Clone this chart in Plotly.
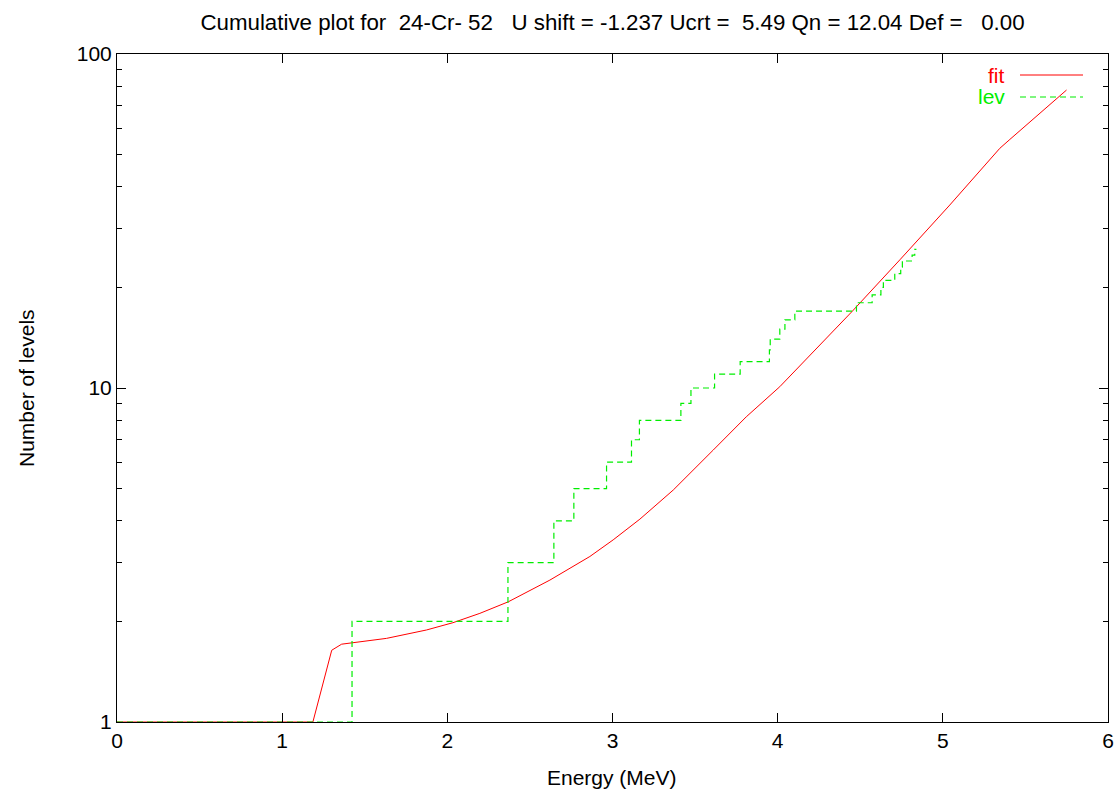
import plotly.graph_objects as go

# Fit curve (cumulative number of levels, model)
fit_energy = [0.0, 1.186, 1.30, 1.36, 1.632, 1.874, 2.034, 2.197, 2.369, 2.621, 2.863, 3.004,
              3.166, 3.368, 3.61, 3.81, 4.013, 4.256, 4.453, 4.74, 5.042, 5.345, 5.375,
              5.406, 5.749]
fit_levels = [1.0, 1.0, 1.64, 1.71, 1.78, 1.886, 1.983, 2.115, 2.29, 2.66, 3.13, 3.51,
              4.05, 4.95, 6.52, 8.2, 10.09, 13.45, 17.0, 24.2, 35.3, 52.2, 53.9,
              55.5, 78.0]

# Experimental level scheme (step function)
lev_energy = [0.0, 1.423, 2.367, 2.645, 2.766, 2.964, 3.115, 3.163, 3.414, 3.475, 3.618,
              3.773, 3.950, 3.955, 4.013, 4.044, 4.104, 4.477, 4.572, 4.625, 4.640, 4.709,
              4.745, 4.755, 4.814, 4.830, 4.840]
lev_count = [1, 2, 3, 4, 5, 6, 7, 8, 9, 10, 11, 12, 13, 14, 15, 16, 17, 18, 19, 20, 21,
             22, 23, 24, 25, 26, 26]

x_ticks = [0, 1, 2, 3, 4, 5, 6]
y_ticks = [1, 10, 100]
y_minor = [2, 3, 4, 5, 6, 7, 8, 9, 20, 30, 40, 50, 60, 70, 80, 90]

title_text = ("Cumulative plot for  24-Cr- 52   U shift = -1.237 Ucrt =  5.49 "
              "Qn = 12.04 Def =   0.00").replace(" ", "\u00a0")

FONT = "Liberation Sans, Arial, Helvetica, sans-serif"
FS = 21

W, H = 1120, 793
L, R, T, B = 117, W - 1108, 54, H - 722
pw, ph = W - L - R, H - T - B
def px(xp):
    return (xp - L) / pw
def py(yp):
    return (H - B - yp) / ph

fig = go.Figure()
fig.add_trace(go.Scatter(x=fit_energy, y=fit_levels, mode="lines",
                         line=dict(color="#ff0000", width=1),
                         name="fit", showlegend=False))
fig.add_trace(go.Scatter(x=lev_energy, y=lev_count, mode="lines", line_shape="hv",
                         line=dict(color="#00ee00", width=1.2, dash="6px,4px"), name="lev",
                         showlegend=False))

# gnuplot-style key (text left, sample right)
fig.add_annotation(x=px(1007), y=py(75), xref="paper", yref="paper",
                   text="fit", showarrow=False, xanchor="right", yanchor="middle",
                   font=dict(family=FONT, size=FS, color="#ff0000"))
fig.add_annotation(x=px(1007), y=py(97), xref="paper", yref="paper",
                   text="lev", showarrow=False, xanchor="right", yanchor="middle",
                   font=dict(family=FONT, size=FS, color="#00ee00"))
fig.add_shape(type="line", xref="paper", yref="paper", x0=px(1020), x1=px(1083),
              y0=py(75), y1=py(75), line=dict(color="#ff0000", width=1))
fig.add_shape(type="line", xref="paper", yref="paper", x0=px(1020), x1=px(1083),
              y0=py(97), y1=py(97), line=dict(color="#00ee00", width=1.2, dash="6px,4px"))

# axis titles
fig.add_annotation(x=px(612), y=py(777), xref="paper", yref="paper",
                   text="Energy (MeV)", showarrow=False, xanchor="center", yanchor="middle",
                   font=dict(family=FONT, size=FS, color="black"))
fig.add_annotation(x=px(26), y=py(388), xref="paper", yref="paper",
                   text="Number of levels", showarrow=False, xanchor="center",
                   yanchor="middle", textangle=-90,
                   font=dict(family=FONT, size=FS, color="black"))

fig.update_layout(
    width=W, height=H,
    margin=dict(l=L, r=R, t=T, b=B, autoexpand=False),
    paper_bgcolor="white", plot_bgcolor="white",
    font=dict(family=FONT, size=FS, color="black"),
    title=dict(text=title_text, x=(L + pw / 2) / W, xanchor="center",
               y=1 - 22 / H, yanchor="middle", font=dict(family=FONT, size=22.3)),
    xaxis=dict(range=[0, 6], tickvals=x_ticks, ticks="inside", ticklen=9, tickwidth=1,
               tickcolor="black", mirror="allticks", showline=True, linecolor="black",
               linewidth=1, showgrid=False, zeroline=False, automargin=False),
    yaxis=dict(type="log", range=[0, 2], tickvals=y_ticks, ticktext=["1", "10", "100"],
               ticks="inside", ticklen=9, tickwidth=1, tickcolor="black",
               mirror="allticks", showline=True, linecolor="black", linewidth=1,
               showgrid=False, zeroline=False, automargin=False,
               minor=dict(tickvals=y_minor, ticks="inside", ticklen=5, tickcolor="black",
                          showgrid=False)),
)

fig.write_html("out.html", config={"displayModeBar": False},
               post_script="document.body.style.margin='0';"
                           "document.body.style.overflow='hidden';")
